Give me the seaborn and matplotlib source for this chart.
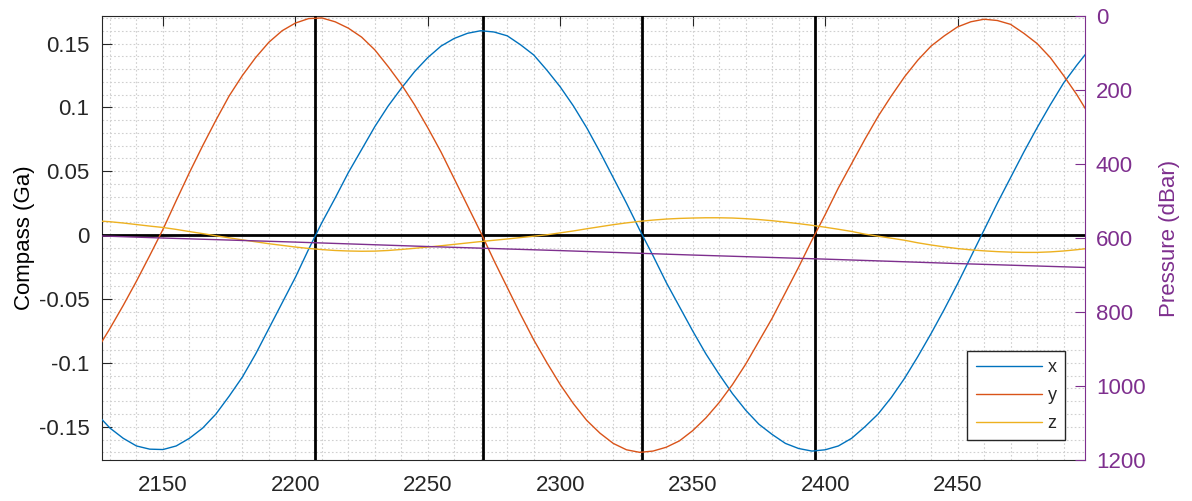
import matplotlib
matplotlib.use('Agg')
import matplotlib.pyplot as plt
import matplotlib.ticker as mticker
import seaborn as sns
import pandas as pd

# Sample times (s) for the compass channels
time = [2125, 2130, 2135, 2140, 2145, 2150, 2155, 2160, 2165, 2170,
        2175, 2180, 2185, 2190, 2195, 2200, 2205, 2210, 2215, 2220,
        2225, 2230, 2235, 2240, 2245, 2250, 2255, 2260, 2265, 2270,
        2275, 2280, 2285, 2290, 2295, 2300, 2305, 2310, 2315, 2320,
        2325, 2330, 2335, 2340, 2345, 2350, 2355, 2360, 2365, 2370,
        2375, 2380, 2385, 2390, 2395, 2400, 2405, 2410, 2415, 2420,
        2425, 2430, 2435, 2440, 2445, 2450, 2455, 2460, 2465, 2470,
        2475, 2480, 2485, 2490, 2495, 2500]

compass_x = [-0.140, -0.151, -0.159, -0.165, -0.1675, -0.1678, -0.165, -0.159, -0.151, -0.140,
             -0.126, -0.111, -0.093, -0.073, -0.053, -0.033, -0.011, 0.0098, 0.029, 0.049,
             0.067, 0.085, 0.101, 0.115, 0.128, 0.139, 0.148, 0.154, 0.158, 0.160,
             0.159, 0.156, 0.149, 0.141, 0.129, 0.116, 0.101, 0.084, 0.065, 0.045,
             0.025, 0.004, -0.016, -0.037, -0.056, -0.075, -0.093, -0.109, -0.124, -0.137,
             -0.148, -0.156, -0.163, -0.167, -0.169, -0.168, -0.165, -0.159, -0.150, -0.140,
             -0.127, -0.112, -0.095, -0.077, -0.058, -0.038, -0.017, 0.004, 0.025, 0.045,
             0.065, 0.084, 0.102, 0.119, 0.133, 0.146]

compass_y = [-0.090, -0.073, -0.055, -0.036, -0.016, 0.0045, 0.027, 0.049, 0.070, 0.090,
             0.109, 0.125, 0.139, 0.151, 0.160, 0.166, 0.1695, 0.170, 0.167, 0.162,
             0.155, 0.145, 0.132, 0.118, 0.102, 0.084, 0.065, 0.044, 0.023, 0.002,
             -0.020, -0.041, -0.062, -0.082, -0.100, -0.117, -0.132, -0.145, -0.155, -0.163,
             -0.168, -0.170, -0.169, -0.166, -0.161, -0.153, -0.143, -0.131, -0.117, -0.101,
             -0.083, -0.065, -0.045, -0.025, -0.004, 0.016, 0.037, 0.056, 0.075, 0.093,
             0.109, 0.124, 0.137, 0.148, 0.156, 0.163, 0.167, 0.169, 0.168, 0.165,
             0.158, 0.150, 0.139, 0.125, 0.110, 0.093]

compass_z = [0.0112, 0.0105, 0.0095, 0.0083, 0.0071, 0.0060, 0.0045, 0.0028, 0.0012, -0.0005,
             -0.0021, -0.0037, -0.0052, -0.0067, -0.0080, -0.0093, -0.0104, -0.0113, -0.0120, -0.0124,
             -0.0126, -0.0125, -0.0120, -0.0112, -0.0103, -0.0093, -0.0083, -0.0072, -0.0061, -0.0050,
             -0.0040, -0.0030, -0.0019, -0.0008, 0.0003, 0.0018, 0.0033, 0.0050, 0.0066, 0.0082,
             0.0096, 0.0108, 0.0118, 0.0126, 0.0131, 0.0134, 0.0136, 0.0136, 0.0134, 0.0129,
             0.0122, 0.0113, 0.0102, 0.0090, 0.0077, 0.0062, 0.0046, 0.0029, 0.0008, -0.0008,
             -0.0024, -0.0040, -0.0060, -0.0077, -0.0092, -0.0105, -0.0115, -0.0123, -0.0129, -0.0133,
             -0.0135, -0.0135, -0.0131, -0.0124, -0.0114, -0.0102]

# Pressure channel (right axis)
pressure_time = [2125, 2150, 2200, 2250, 2300, 2350, 2400, 2450, 2500]
pressure = [594, 600, 611, 623, 634, 646, 657, 669, 680]

# Marked event times (vertical lines)
events = [2207.5, 2271, 2331, 2396]

colors = {'x': '#0072BD', 'y': '#D95319', 'z': '#EDB120'}
purple = '#7E2F8E'
txt = '#262626'

df = pd.DataFrame({'time': time * 3,
                   'value': compass_x + compass_y + compass_z,
                   'axis': ['x'] * len(time) + ['y'] * len(time) + ['z'] * len(time)})

sns.set_theme(style='white')
plt.rcParams['font.family'] = ['Liberation Sans', 'DejaVu Sans']
plt.rcParams['axes.unicode_minus'] = False

fig = plt.figure(figsize=(11.92, 5.01), dpi=100)
ax = fig.add_axes([0.0856, 0.0818, 0.8244, 0.8862])

ax.set_axisbelow(True)
ax.grid(True, which='both', color='#d0d0d0', linestyle=(0, (1.5, 2)), linewidth=0.8)

for t in events:
    ax.axvline(t, color='black', linewidth=2, zorder=3)
ax.axhline(0, color='black', linewidth=2, zorder=3)

sns.lineplot(data=df, x='time', y='value', hue='axis', palette=colors,
             linewidth=1.0, ax=ax, zorder=4, sort=False)

ax.set_xlim(2127, 2498)
ax.set_ylim(-0.176, 0.1715)
ax.xaxis.set_major_locator(mticker.MultipleLocator(50))
ax.xaxis.set_minor_locator(mticker.MultipleLocator(10))
ax.yaxis.set_major_locator(mticker.MultipleLocator(0.05))
ax.yaxis.set_minor_locator(mticker.MultipleLocator(0.01))
ax.yaxis.set_major_formatter(mticker.FuncFormatter(lambda v, p: '%g' % round(v, 3)))
ax.tick_params(axis='both', which='major', direction='in', length=7, width=0.8,
               colors=txt, labelsize=16, top=True, right=False)
ax.tick_params(axis='both', which='minor', length=0)
ax.tick_params(axis='x', pad=11)
ax.tick_params(axis='y', pad=9)
for s in ['left', 'bottom', 'top']:
    ax.spines[s].set_color(txt)
    ax.spines[s].set_linewidth(0.8)
ax.spines['right'].set_visible(False)
ax.set_xlabel('')
ax.set_ylabel('Compass (Ga)', fontsize=16, color='black', labelpad=3)

leg = ax.legend(loc='lower right', fontsize=13, frameon=True, fancybox=False,
                handlelength=3.7, labelspacing=0.6, borderaxespad=1.1,
                handletextpad=0.3, borderpad=0.45)
leg.get_frame().set_edgecolor(txt)
leg.get_frame().set_linewidth(1.0)
leg.get_frame().set_alpha(1.0)
leg.set_zorder(10)

ax2 = ax.twinx()
sns.lineplot(x=pressure_time, y=pressure, color=purple, linewidth=1.0, ax=ax2)
ax2.set_ylim(1200, 0)
ax2.yaxis.set_major_locator(mticker.MultipleLocator(200))
ax2.tick_params(axis='y', direction='in', length=7, width=0.8, colors=purple,
                labelsize=16, pad=8)
for s in ['left', 'bottom', 'top']:
    ax2.spines[s].set_visible(False)
ax2.spines['right'].set_color(purple)
ax2.spines['right'].set_linewidth(0.8)
ax2.set_ylabel('Pressure (dBar)', fontsize=16, color=purple, labelpad=10)
ax2.grid(False)

fig.savefig('out.png', dpi=100)
